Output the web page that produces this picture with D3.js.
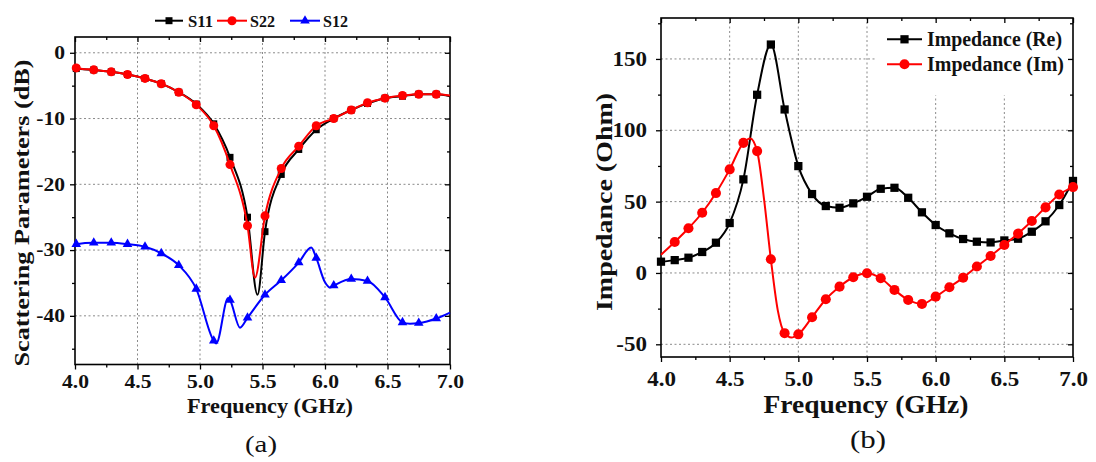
<!DOCTYPE html>
<html><head><meta charset="utf-8">
<script src="https://cdn.jsdelivr.net/npm/d3@7"></script>
<style>body{margin:0;background:#fff}svg{display:block}</style>
</head><body>
<script>
// ---------- Panel (a): scattering parameters ----------
const s11Freq = [4.00,4.01,4.15,4.29,4.42,4.56,4.69,4.83,4.97,5.11,5.24,5.38,5.46,5.52,5.65,5.79,5.93,6.07,6.21,6.34,6.48,6.62,6.75,6.89,7.00];
const s11Val  = [-2.3,-2.4,-2.6,-2.9,-3.3,-3.9,-4.7,-6.0,-7.8,-10.8,-15.9,-25.0,-36.8,-27.2,-18.5,-14.7,-11.7,-10.0,-8.7,-7.7,-6.9,-6.6,-6.3,-6.3,-6.6];
const s11Mark = [0,1,1,1,1,1,1,1,1,1,1,1,0,1,1,1,1,1,1,1,1,1,1,1,0];

const s22Freq = [4.00,4.01,4.15,4.29,4.42,4.56,4.69,4.83,4.97,5.11,5.24,5.38,5.44,5.52,5.65,5.79,5.93,6.07,6.21,6.34,6.48,6.62,6.75,6.89,7.00];
const s22Val  = [-2.2,-2.3,-2.6,-2.9,-3.3,-3.9,-4.7,-6.0,-7.9,-11.1,-17.0,-26.3,-34.2,-24.8,-17.6,-14.2,-11.1,-10.0,-8.7,-7.6,-6.9,-6.5,-6.3,-6.3,-6.5];
const s22Mark = [0,1,1,1,1,1,1,1,1,1,1,1,0,1,1,1,1,1,1,1,1,1,1,1,0];

const s12Freq = [4.00,4.01,4.15,4.29,4.42,4.56,4.69,4.83,4.97,5.11,5.13,5.225,5.24,5.32,5.38,5.52,5.65,5.79,5.89,5.93,6.00,6.04,6.07,6.21,6.34,6.48,6.62,6.68,6.75,6.89,7.00];
const s12Val  = [-29.2,-29.1,-28.9,-28.9,-29.1,-29.5,-30.5,-32.3,-35.9,-43.8,-44.2,-37.3,-37.6,-41.8,-40.3,-36.8,-34.6,-31.9,-29.6,-31.2,-34.9,-35.7,-35.4,-34.4,-34.7,-37.2,-41.0,-41.2,-41.1,-40.4,-39.5];
const s12Mark = [0,1,1,1,1,1,1,1,1,1,0,0,1,0,1,1,1,1,0,1,0,0,1,1,1,1,1,0,1,1,0];

const xTicksA = [4.0,4.5,5.0,5.5,6.0,6.5,7.0];
const xMinorA = [4.25,4.75,5.25,5.75,6.25,6.75];
const yTicksA = [0,-10,-20,-30,-40];
const yMinorA = [-5,-15,-25,-35,-45];
const legendA = ["S11","S22","S12"];

// ---------- Panel (b): impedance ----------
const reFreq = [4.0,4.1,4.2,4.3,4.4,4.5,4.6,4.7,4.8,4.9,5.0,5.1,5.2,5.3,5.4,5.5,5.6,5.7,5.8,5.9,6.0,6.1,6.2,6.3,6.4,6.5,6.6,6.7,6.8,6.9,7.0];
const reVal  = [7.9,9.0,10.7,14.7,21.2,35.0,65.6,124.9,160.1,114.6,74.9,55.3,46.9,45.7,48.8,53.4,59.0,59.7,52.7,42.5,33.6,27.8,23.8,21.9,21.4,22.8,24.0,28.9,36.2,47.6,64.5];
const reMark = [1,1,1,1,1,1,1,1,1,1,1,1,1,1,1,1,1,1,1,1,1,1,1,1,1,1,1,1,1,1,1];

const imFreq = [4.0,4.1,4.2,4.3,4.4,4.5,4.6,4.65,4.7,4.75,4.8,4.85,4.9,4.95,5.0,5.1,5.2,5.3,5.4,5.5,5.6,5.7,5.8,5.9,6.0,6.1,6.2,6.3,6.4,6.5,6.6,6.7,6.8,6.9,7.0];
const imVal  = [12.8,21.7,31.3,42.2,56.0,72.6,91.2,94.3,85.4,52.0,9.6,-26.0,-42.2,-45.3,-43.0,-31.0,-18.4,-9.6,-3.0,-0.2,-3.7,-11.9,-18.9,-21.7,-16.6,-10.0,-3.3,4.5,11.9,19.6,27.6,36.4,46.0,55.0,60.2];
const imMark = [0,1,1,1,1,1,1,0,1,0,1,0,1,0,1,1,1,1,1,1,1,1,1,1,1,1,1,1,1,1,1,1,1,1,1];

const xTicksB = [4.0,4.5,5.0,5.5,6.0,6.5,7.0];
const xMinorB = [4.25,4.75,5.25,5.75,6.25,6.75];
const yTicksB = [-50,0,50,100,150];
const yMinorB = [-25,25,75,125,175];
const legendB = ["Impedance (Re)","Impedance (Im)"];

// ---------- drawing ----------
const FONT = "'Liberation Serif','Times New Roman',Times,serif";
const svg = d3.select("body").append("svg").attr("width",1096).attr("height",462);

function stretch(sel, k){
  sel.each(function(){
    const w = this.getComputedTextLength();
    d3.select(this).attr("textLength", w*k).attr("lengthAdjust","spacingAndGlyphs");
  });
}
function fitTo(sel, w){ sel.attr("textLength", w).attr("lengthAdjust","spacingAndGlyphs"); }

function sym(type, size){ return d3.symbol().type(type).size(size)(); }

function panel(o){
  const g = svg.append("g");
  const x = d3.scaleLinear().domain(o.xDom).range(o.xRange);
  const y = d3.scaleLinear().domain(o.yDom).range(o.yRange);
  const [L,R] = o.xRange, [B,T] = o.yRange;

  // grid
  const grid = g.append("g").attr("stroke","#8a8a8a").attr("stroke-width",1).attr("stroke-dasharray","2,2.5");
  grid.selectAll(".gx").data(o.xTicks.filter(d=>d>o.xDom[0]&&d<o.xDom[1])).join("line")
    .attr("x1",d=>x(d)).attr("x2",d=>x(d)).attr("y1",B).attr("y2",T);
  grid.selectAll(".gy").data(o.yTicks).join("line")
    .attr("x1",L).attr("x2",R).attr("y1",d=>y(d)).attr("y2",d=>y(d));

  if (o.legendBox) {
    g.append("rect").attr("x",o.legendBox[0]).attr("y",o.legendBox[1])
      .attr("width",o.legendBox[2]).attr("height",o.legendBox[3]).attr("fill","#fff");
  }

  // axes
  const tickStyle = s => { s.select(".domain").remove(); s.selectAll("line").attr("stroke","#000").attr("stroke-width",1.3); };
  const fmtX = d3.format(".1f");
  const bx = g.append("g").attr("transform",`translate(0,${B})`)
    .call(d3.axisBottom(x).tickValues(o.xTicks).tickSize(5).tickPadding(o.xPad).tickFormat(fmtX)).call(tickStyle);
  g.append("g").attr("transform",`translate(0,${B})`)
    .call(d3.axisBottom(x).tickValues(o.xMinor).tickSize(3).tickFormat("")).call(tickStyle);
  g.append("g").attr("transform",`translate(0,${T})`)
    .call(d3.axisBottom(x).tickValues(o.xTicks).tickSize(5).tickFormat("")).call(tickStyle);
  g.append("g").attr("transform",`translate(0,${T})`)
    .call(d3.axisBottom(x).tickValues(o.xMinor).tickSize(3).tickFormat("")).call(tickStyle);
  const ly = g.append("g").attr("transform",`translate(${L},0)`)
    .call(d3.axisLeft(y).tickValues(o.yTicks).tickSize(5).tickPadding(o.yPad).tickFormat(d=>String(d))).call(tickStyle);
  g.append("g").attr("transform",`translate(${L},0)`)
    .call(d3.axisLeft(y).tickValues(o.yMinor.filter(d=>d>o.yDom[0]&&d<o.yDom[1])).tickSize(3).tickFormat("")).call(tickStyle);
  g.append("g").attr("transform",`translate(${R},0)`)
    .call(d3.axisLeft(y).tickValues(o.yTicks).tickSize(5).tickFormat("")).call(tickStyle);
  g.append("g").attr("transform",`translate(${R},0)`)
    .call(d3.axisLeft(y).tickValues(o.yMinor.filter(d=>d>o.yDom[0]&&d<o.yDom[1])).tickSize(3).tickFormat("")).call(tickStyle);

  [bx, ly].forEach(a => {
    a.selectAll("text").attr("font-family",FONT).attr("font-weight","bold")
      .attr("font-size",o.tickFont).attr("fill","#111");
    stretch(a.selectAll("text"), o.tickStretch);
  });

  // frame
  g.append("rect").attr("x",L).attr("y",T).attr("width",R-L).attr("height",B-T)
    .attr("fill","none").attr("stroke","#000").attr("stroke-width",1.6);

  // series
  const line = d3.line().x(d=>x(d[0])).y(d=>y(d[1])).curve(d3.curveMonotoneX);
  o.series.forEach(s => {
    const pts = s.freq.map((f,i)=>[f, s.val[i], s.mark[i]]);
    g.append("path").datum(pts).attr("d",line).attr("fill","none")
      .attr("stroke",s.color).attr("stroke-width",o.lw).attr("stroke-linejoin","round");
    g.append("g").selectAll("path").data(pts.filter(p=>p[2])).join("path")
      .attr("d",sym(s.shape, s.size)).attr("fill",s.color)
      .attr("transform",p=>`translate(${x(p[0])},${y(p[1])})`);
  });

  // titles
  const xt = g.append("text").attr("x",o.xTitle[1]).attr("y",o.xTitle[2]).attr("text-anchor","middle")
    .attr("font-family",FONT).attr("font-weight","bold").attr("font-size",o.xTitle[3]).attr("fill","#111").text(o.xTitle[0]);
  fitTo(xt, o.xTitle[4]);
  const yt = g.append("text").attr("transform",`translate(${o.yTitle[1]},${o.yTitle[2]}) rotate(-90)`)
    .attr("text-anchor","middle").attr("dominant-baseline","central")
    .attr("font-family",FONT).attr("font-weight","bold").attr("font-size",o.yTitle[3]).attr("fill","#111").text(o.yTitle[0]);
  fitTo(yt, o.yTitle[4]);
  const cap = g.append("text").attr("x",o.caption[1]).attr("y",o.caption[2]).attr("text-anchor","middle")
    .attr("font-family",FONT).attr("font-size",o.caption[3]).attr("fill","#111").text(o.caption[0]);
  fitTo(cap, o.caption[4]);
  return g;
}

const gA = panel({
  xDom:[4,7], xRange:[75,450], yDom:[-47.4,2.4], yRange:[364.5,37],
  xTicks:xTicksA, xMinor:xMinorA, yTicks:yTicksA, yMinor:yMinorA,
  xPad:6, yPad:5, tickFont:18, tickStretch:1.2, lw:2,
  series:[
    {freq:s11Freq,val:s11Val,mark:s11Mark,color:"#000",shape:d3.symbolSquare,size:49},
    {freq:s22Freq,val:s22Val,mark:s22Mark,color:"#ff0000",shape:d3.symbolCircle,size:64},
    {freq:s12Freq,val:s12Val,mark:s12Mark,color:"#0000ff",shape:d3.symbolTriangle,size:40}
  ],
  xTitle:["Frequency (GHz)",270,413,21,166],
  yTitle:["Scattering Parameters (dB)",21,213,22,307],
  caption:["(a)",261,452,23,32]
});

// legend (a)
const legA = [
  {x0:155,x1:183,tx:188,color:"#000",shape:d3.symbolSquare,size:49},
  {x0:217,x1:247,tx:250,color:"#ff0000",shape:d3.symbolCircle,size:64},
  {x0:290,x1:320,tx:323,color:"#0000ff",shape:d3.symbolTriangle,size:40}
];
legA.forEach((l,i)=>{
  const yy = 20.7;
  svg.append("line").attr("x1",l.x0).attr("x2",l.x1).attr("y1",yy).attr("y2",yy).attr("stroke",l.color).attr("stroke-width",2);
  svg.append("path").attr("d",sym(l.shape,l.size)).attr("fill",l.color).attr("transform",`translate(${(l.x0+l.x1)/2},${yy})`);
  const t = svg.append("text").attr("x",l.tx).attr("y",yy+6).attr("font-family",FONT).attr("font-weight","bold")
    .attr("font-size",17).attr("fill","#111").text(legendA[i]);
  fitTo(t, 25);
});

const gB = panel({
  xDom:[4,7], xRange:[661,1073], yDom:[-58.9,178.7], yRange:[357,18],
  xTicks:xTicksB, xMinor:xMinorB, yTicks:yTicksB, yMinor:yMinorB,
  xPad:10, yPad:9, tickFont:20, tickStretch:1.15, lw:2,
  legendBox:[875,19.5,197,76],
  series:[
    {freq:reFreq,val:reVal,mark:reMark,color:"#000",shape:d3.symbolSquare,size:68},
    {freq:imFreq,val:imVal,mark:imMark,color:"#ff0000",shape:d3.symbolCircle,size:80}
  ],
  xTitle:["Frequency (GHz)",866,413,25,205],
  yTitle:["Impedance (Ohm)",604,202,23,218],
  caption:["(b)",868,448,25,36]
});

// legend (b)
const legB = [
  {y:39.3,color:"#000",shape:d3.symbolSquare,size:68,w:135},
  {y:64.3,color:"#ff0000",shape:d3.symbolCircle,size:80,w:137}
];
legB.forEach((l,i)=>{
  svg.append("line").attr("x1",887).attr("x2",922).attr("y1",l.y).attr("y2",l.y).attr("stroke",l.color).attr("stroke-width",2);
  svg.append("path").attr("d",sym(l.shape,l.size)).attr("fill",l.color).attr("transform",`translate(904.5,${l.y})`);
  const t = svg.append("text").attr("x",927).attr("y",l.y+7).attr("font-family",FONT).attr("font-weight","bold")
    .attr("font-size",20).attr("fill","#111").text(legendB[i]);
  fitTo(t, l.w);
});
</script>
</body></html>
